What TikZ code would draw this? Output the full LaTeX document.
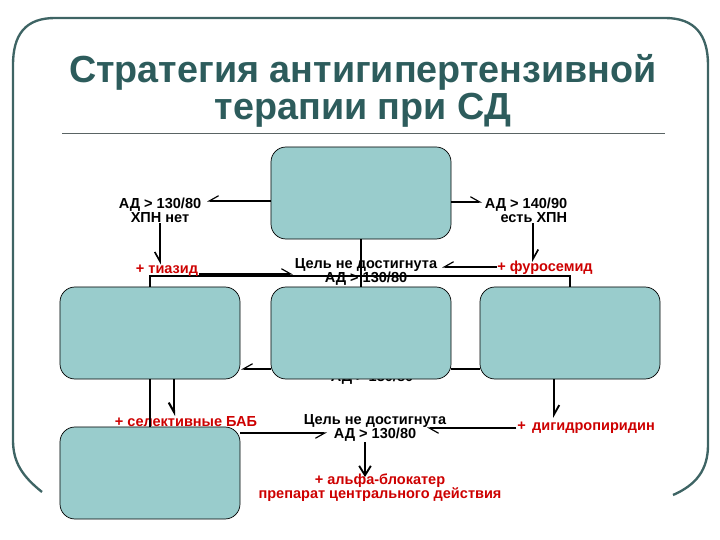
\documentclass[tikz,border=0pt]{standalone}
\usepackage{fontspec}
\setmainfont{Liberation Sans}
\usetikzlibrary{arrows.meta}
\definecolor{boxfill}{RGB}{153,204,204}
\definecolor{framec}{RGB}{62,100,100}
\definecolor{titlec}{RGB}{45,92,92}
\definecolor{redc}{RGB}{205,0,0}
\definecolor{rulec}{RGB}{90,100,100}
\begin{document}
\begin{tikzpicture}[x=0.03cm,y=-0.03cm,
  box/.style={draw=black, line width=0.6pt, fill=boxfill, rounded corners=0.45cm,
    minimum width=5.4cm, minimum height=2.76cm, inner sep=0pt},
  lab/.style={font=\fontsize{12.4}{12}\selectfont\bfseries, text=black, inner sep=0.5pt, align=center},
  redlab/.style={lab, text=redc},
  ttl/.style={font=\fontsize{32.2}{31.5}\selectfont\bfseries, text=titlec, inner sep=0pt, align=center},
  con/.style={line width=1pt},
  bus/.style={line width=1.8pt},
  hl/.style={con, -{Straight Barb[harpoon, length=8pt, width=9pt]}},
  hr/.style={con, -{Straight Barb[harpoon, swap, length=8pt, width=9pt]}},
  fa/.style={con, -{Straight Barb[length=8pt, width=10pt]}},
  framel/.style={draw=framec, line width=2pt},
]
\useasboundingbox (0,0) rectangle (720,540);
% frame
\draw[framel] (42,492) .. controls (22,476) and (13,462) .. (13,440) -- (13,65)
  .. controls (13,35) and (25,18) .. (55,18) -- (665,18)
  .. controls (695,18) and (708,35) .. (708,65) -- (708,445)
  .. controls (708,470) and (696,485) .. (673,495);
% title
\node[ttl] (title) at (363,91) {Стратегия антигипертензивной\\терапии при СД};
\coordinate (r1) at (62,133); \coordinate (r2) at (665,133);
\draw[rulec, line width=0.6pt] (r1) -- (r2);

% text partly hidden under the middle box
\node[lab] (hid) at (372,378) {АД > 130/80};

% coordinates
\coordinate (busy) at (0,276);
\coordinate (a1) at (207,201);
\coordinate (a2) at (482,202);
\coordinate (a4) at (533,262);
\coordinate (a5) at (293,274);
\coordinate (a6) at (442,267);
\coordinate (a7) at (241,369);
\coordinate (a8) at (174,416);
\coordinate (a9) at (327,433);
\coordinate (a10) at (427,428);
\coordinate (a11) at (554,418);
\coordinate (a12) at (365,477);

% boxes
\node[box] (T) at (361,193) {};
\node[box] (L) at (150,333) {};
\node[box] (M) at (361,333) {};
\node[box] (R) at (570,333) {};
\node[box] (B) at (150,473) {};

% bus lines
\draw[bus] (L.north) -- (L.north |- busy) -- (R.north |- busy) -- (R.north);
\draw[bus] (T.south) -- (M.north);

% labels
\node[lab] (l130) at (160,210) {АД > 130/80\\ХПН нет};
\node[lab, align=right, anchor=east] (l140) at (568,210) {АД > 140/90\\есть ХПН};
\node[redlab] (tiaz) at (167,271) {+ тиазид};
\node[redlab] (furo) at (545,268) {+ фуросемид};
\node[lab] (goal1) at (366,272) {Цель не достигнута\\АД > 130/80};
\node[redlab] (bab) at (186,422) {+ селективные БАБ};
\node[lab] (goal2) at (375,428) {Цель не достигнута\\АД > 130/80};
\node[redlab] (dihy) at (586,428) {+\, дигидропиридин};
\node[redlab] (alpha) at (380,488) {+ альфа-блокатер\\препарат центрального действия};

% connectors
\draw[hr] (T.west |- a1) -- (a1);
\draw[hl] (T.east |- a2) -- (a2);
\draw[hr, line width=1.4pt] (l130.south) -- (l130.south |- tiaz.north);
\draw[hl, line width=1.4pt] (l140.south -| a4) -- (a4);
\draw[hl] (tiaz.east |- a5) -- (a5);
\draw[hr] (furo.west |- a6) -- (a6);
\draw[hr] (M.west |- a7) -- (a7);
\draw[con] (M.east |- a7) -- (R.west |- a7);
\draw[con, line width=1.4pt] (L.south) -- (B.north);
\draw[hr, line width=1.8pt] (L.south -| a8) -- (a8);
\draw[hr] (B.east |- a9) -- (a9);
\draw[hl] (dihy.west |- a10) -- (a10);
\draw[hl, line width=1.6pt] (R.south -| a11) -- (a11);
\draw[fa, line width=1.6pt] (goal2.south -| a12) -- (a12);
\end{tikzpicture}
\end{document}
